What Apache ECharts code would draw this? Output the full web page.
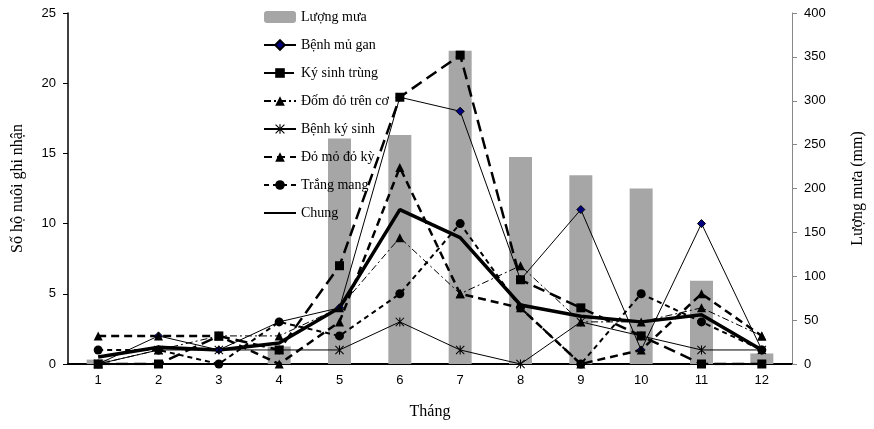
<!DOCTYPE html>
<html>
<head>
<meta charset="utf-8">
<script src="https://cdn.jsdelivr.net/npm/echarts@6/dist/echarts.min.js"></script>
<style>html,body{margin:0;padding:0;background:#fff}#c{width:874px;height:429px}</style>
</head>
<body>
<div id="c"></div>
<script>
var months = ['1','2','3','4','5','6','7','8','9','10','11','12'];
var luongMua   = [5, 0, 0, 20, 257, 261, 357, 236, 215, 200, 95, 12];
var benhMuGan  = [0, 2, 1, 3, 4, 19, 18, 6, 11, 1, 10, 1];
var kySinhTrung= [0, 0, 2, 1, 7, 19, 22, 6, 4, 2, 0, 0];
var domDo      = [0, 1, 2, 2, 4, 9, 5, 7, 3, 3, 4, 2];
var benhKySinh = [0, 1, 1, 1, 1, 3, 1, 0, 3, 2, 1, 1];
var doMo       = [2, 2, 2, 0, 3, 14, 5, 4, 0, 1, 5, 2];
var trangMang  = [1, 1, 0, 3, 2, 5, 10, 4, 0, 5, 3, 1];
var chung      = [0.5, 1.2, 1.0, 1.5, 4, 11, 9, 4.2, 3.4, 3.0, 3.5, 1.0];

var asterisk = 'path://M4.4,0 L5.6,0 L5.6,10 L4.4,10 Z M0,0.8 L0.8,0 L10,9.2 L9.2,10 Z M9.2,0 L10,0.8 L0.8,10 L0,9.2 Z';
var serif = 'Liberation Serif';
var sans = 'Liberation Sans';

function lineSeries(name, data, opts) {
  return Object.assign({
    name: name, type: 'line', yAxisIndex: 0, data: data,
    color: '#000', symbolSize: 8,
    itemStyle: {color: '#000'},
    lineStyle: {color: '#000', width: 1},
    z: 3
  }, opts);
}

var chart = echarts.init(document.getElementById('c'), null, {renderer: 'canvas'});
chart.setOption({
  animation: false,
  grid: {left: 68, right: 77, top: 13, bottom: 65},
  legend: {
    orient: 'vertical', left: 258, top: 5, itemWidth: 32, itemHeight: 12, itemGap: 14,
    textStyle: {fontFamily: serif, fontSize: 14, color: '#000'},
    data: ['Lượng mưa','Bệnh mủ gan','Ký sinh trùng','Đốm đỏ trên cơ','Bệnh ký sinh','Đỏ mỏ đỏ kỳ','Trắng mang',
      {name: 'Chung', itemStyle: {opacity: 0}}]
  },
  xAxis: {
    type: 'category', data: months,
    name: 'Tháng', nameLocation: 'middle', nameGap: 40,
    nameTextStyle: {fontFamily: serif, fontSize: 16, color: '#000'},
    axisLine: {lineStyle: {color: '#000', width: 2}},
    axisTick: {lineStyle: {color: '#000'}, length: 5},
    axisLabel: {fontFamily: sans, fontSize: 13, color: '#000', margin: 10}
  },
  yAxis: [{
    type: 'value', min: 0, max: 25, interval: 5,
    name: 'Số hộ nuôi ghi nhận', nameLocation: 'middle', nameGap: 42, nameRotate: 90,
    nameTextStyle: {fontFamily: serif, fontSize: 16, color: '#000'},
    axisLine: {show: true, lineStyle: {color: '#000', width: 1.5}},
    axisTick: {show: true, length: 5, lineStyle: {color: '#000'}},
    splitLine: {show: false},
    axisLabel: {fontFamily: sans, fontSize: 13, color: '#000', margin: 12}
  }, {
    type: 'value', min: 0, max: 400, interval: 50, position: 'right',
    name: 'Lượng mưa (mm)', nameLocation: 'middle', nameGap: 58, nameRotate: 90,
    nameTextStyle: {fontFamily: serif, fontSize: 16, color: '#000'},
    axisLine: {show: true, lineStyle: {color: '#888', width: 1}},
    axisTick: {show: true, length: 5, lineStyle: {color: '#888'}},
    splitLine: {show: false},
    axisLabel: {fontFamily: sans, fontSize: 13, color: '#000', margin: 12}
  }],
  series: [
    {name: 'Lượng mưa', type: 'bar', yAxisIndex: 1, data: luongMua, barWidth: 23,
     itemStyle: {color: '#a6a6a6'}, z: 1},
    lineSeries('Bệnh mủ gan', benhMuGan, {symbol: 'diamond', symbolSize: 8,
      itemStyle: {color: '#000080', borderColor: '#000', borderWidth: 1}}),
    lineSeries('Ký sinh trùng', kySinhTrung, {symbol: 'rect', symbolSize: 9,
      lineStyle: {color: '#000', width: 2.5, type: [12, 6]}}),
    lineSeries('Đốm đỏ trên cơ', domDo, {symbol: 'triangle', symbolSize: 9,
      lineStyle: {color: '#000', width: 1, type: [7, 3, 2, 3]}}),
    lineSeries('Bệnh ký sinh', benhKySinh, {symbol: asterisk, symbolSize: 9}),
    lineSeries('Đỏ mỏ đỏ kỳ', doMo, {symbol: 'triangle', symbolSize: 9,
      lineStyle: {color: '#000', width: 2.5, type: [8, 5]}}),
    lineSeries('Trắng mang', trangMang, {symbol: 'circle', symbolSize: 9,
      lineStyle: {color: '#000', width: 2, type: [5, 4]}}),
    lineSeries('Chung', chung, {symbol: 'none',
      lineStyle: {color: '#000', width: 3.5}})
  ]
});
</script>
</body>
</html>
